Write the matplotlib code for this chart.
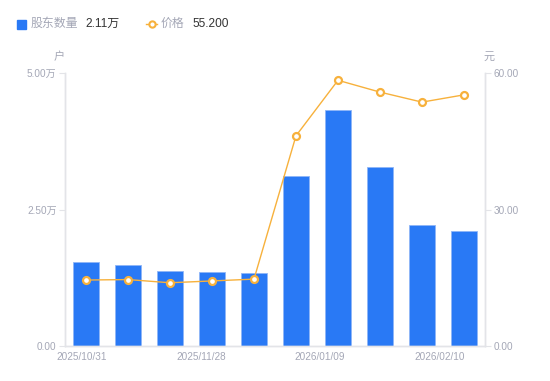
import matplotlib
matplotlib.use("Agg")
import matplotlib.pyplot as plt
from matplotlib.lines import Line2D

plt.rcParams['font.family'] = ['Liberation Sans', 'Noto Sans CJK SC', 'DejaVu Sans']

categories = ["2025/10/31", "c2", "c3", "2025/11/28", "c5", "c6", "2026/01/09", "c8", "c9", "2026/02/10"]
holders = [1.53, 1.49, 1.37, 1.35, 1.33, 3.11, 4.33, 3.27, 2.21, 2.11]  # 万户
price = [14.5, 14.6, 13.9, 14.3, 14.7, 46.2, 58.4, 55.8, 53.6, 55.2]
xtick_labels = ["2025/10/31", "2025/11/28", "2026/01/09", "2026/02/10"]
left_ticks = [0, 2.5, 5.0]
left_labels = ["0.00", "2.50万", "5.00万"]
right_ticks = [0, 30, 60]
right_labels = ["0.00", "30.00", "60.00"]

W, H = 550, 381
fig = plt.figure(figsize=(W / 100, H / 100), dpi=100)
ax = fig.add_axes([65 / W, (H - 346) / H, (485 - 65) / W, (346 - 73) / H])
ax2 = ax.twinx()

blue = '#2979f5'
orange = '#f7b13c'
gray_txt = '#a4a7b6'
axis_col = '#e3e4e8'

x = list(range(len(categories)))
ax.bar(x, holders, width=0.6, color=blue, edgecolor='#8fb6f7', linewidth=0.6, zorder=2)
ax.set_xlim(-0.5, len(categories) - 0.5)
ax.set_ylim(0, 5.0)
ax.set_yticks(left_ticks)
ax.set_yticklabels(left_labels)

ax2.plot(x, price, color=orange, linewidth=1.0, marker='o', markersize=5,
         markerfacecolor='white', markeredgecolor=orange, markeredgewidth=1.6, zorder=3)
ax2.set_ylim(0, 60)
ax2.set_yticks(right_ticks)
ax2.set_yticklabels(right_labels)

# x tick labels positions
ax.set_xticks([-0.1, 2.74, 5.57, 8.43])
ax.set_xticklabels(xtick_labels)

for a in (ax, ax2):
    for s in a.spines.values():
        s.set_color(axis_col)
        s.set_linewidth(1.0)
    a.spines['top'].set_visible(False)
    a.tick_params(axis='both', colors=axis_col, labelcolor=gray_txt, labelsize=7.2, length=4, width=0.8, pad=2)
ax.tick_params(axis='x', length=0, pad=4, labelsize=7.2)
ax2.set_zorder(ax.get_zorder() + 1)
ax2.patch.set_visible(False)

fig.text(59 / W, 1 - 57 / H, "户", color=gray_txt, fontsize=8, ha='center', va='center')
fig.text(489 / W, 1 - 57 / H, "元", color=gray_txt, fontsize=8, ha='center', va='center')

# legend
ly = 1 - 24 / H
fig.patches.append(plt.Rectangle((17 / W, 1 - 29 / H), 9 / W, 9 / H, transform=fig.transFigure,
                                 color=blue, figure=fig))
fig.text(31 / W, ly, "股东数量", color=gray_txt, fontsize=8.6, ha='left', va='center')
fig.text(85 / W, ly, "2.11万", color='#333333', fontsize=8.6, ha='left', va='center')
fig.lines.append(Line2D([146 / W, 151.5 / W, 157 / W], [ly, ly, ly], transform=fig.transFigure, color=orange,
                        linewidth=1.0, marker='o', markersize=4.5, markevery=[1], figure=fig,
                        markerfacecolor='white', markeredgecolor=orange, markeredgewidth=1.5))
fig.text(161 / W, ly, "价格", color=gray_txt, fontsize=8.6, ha='left', va='center')
fig.text(192 / W, ly, "55.200", color='#333333', fontsize=8.6, ha='left', va='center')

fig.savefig("out.png", dpi=100)
